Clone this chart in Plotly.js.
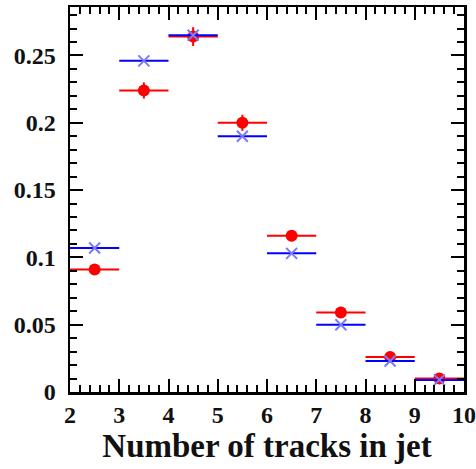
<!DOCTYPE html>
<html><head><meta charset="utf-8">
<script src="https://cdn.plot.ly/plotly-3.0.1.min.js"></script>
<style>html,body{margin:0;padding:0;background:#fff}#c{width:476px;height:469px}</style>
</head><body><div id="c"></div>
<script>
const nTracks = [2.5, 3.5, 4.5, 5.5, 6.5, 7.5, 8.5, 9.5];
const redVals = [0.091, 0.224, 0.264, 0.200, 0.116, 0.059, 0.026, 0.010];
const redErr = [0.003, 0.006, 0.007, 0.006, 0.004, 0.003, 0.002, 0.001];
const blueVals = [0.107, 0.246, 0.265, 0.190, 0.103, 0.050, 0.023, 0.009];
const binHalf = [0.5, 0.5, 0.5, 0.5, 0.5, 0.5, 0.5, 0.5];
const xTicks = [2, 3, 4, 5, 6, 7, 8, 9, 10];
const yTicks = [0, 0.05, 0.1, 0.15, 0.2, 0.25];
const yTickText = ['0', '0.05', '0.1', '0.15', '0.2', '0.25'];

const font = {family: 'Liberation Serif, Times New Roman, serif', weight: 'bold', color: '#111'};

const traces = [
  {x: nTracks, y: redVals, type: 'scatter', mode: 'markers',
   marker: {symbol: 'circle', size: 12, color: '#ff0000'},
   error_x: {type: 'data', array: binHalf, symmetric: true, color: '#ff0000', thickness: 2, width: 0},
   error_y: {type: 'data', array: redErr, symmetric: true, color: '#ff0000', thickness: 2, width: 0},
   showlegend: false},
  {x: nTracks, y: blueVals, type: 'scatter', mode: 'markers',
   marker: {symbol: 'x-thin', size: 11, color: '#7a7aff', line: {color: '#7a7aff', width: 2}},
   error_x: {type: 'data', array: binHalf, symmetric: true, color: '#0000ff', thickness: 2, width: 0},
   showlegend: false}
];

const axisCommon = {
  showgrid: false, zeroline: false, showline: true, linecolor: '#000', linewidth: 2.5,
  mirror: 'allticks', ticks: 'inside', ticklen: 13, tickwidth: 2, tickcolor: '#000',
  tickfont: Object.assign({size: 24}, font), ticklabeloverflow: 'allow'
};

const layout = {
  width: 476, height: 469,
  margin: {l: 70, r: 12, t: 7, b: 77},
  paper_bgcolor: '#fff', plot_bgcolor: '#fff',
  xaxis: Object.assign({}, axisCommon, {
    range: [2, 10], tickmode: 'array', tickvals: xTicks, ticktext: xTicks.map(String),
    minor: {dtick: 0.2, ticks: 'inside', ticklen: 7, tickwidth: 2, tickcolor: '#000', showgrid: false},
    title: {text: 'Number of tracks in jet', font: Object.assign({size: 33}, font), standoff: 4}
  }),
  yaxis: Object.assign({}, axisCommon, {
    range: [0, 0.286], tickmode: 'array', tickvals: yTicks, ticktext: yTickText,
    ticklabelstandoff: 7,
    minor: {dtick: 0.01, tick0: 0, ticks: 'inside', ticklen: 7, tickwidth: 2, tickcolor: '#000', showgrid: false}
  })
};

Plotly.newPlot('c', traces, layout, {displayModeBar: false, staticPlot: true});
</script></body></html>
